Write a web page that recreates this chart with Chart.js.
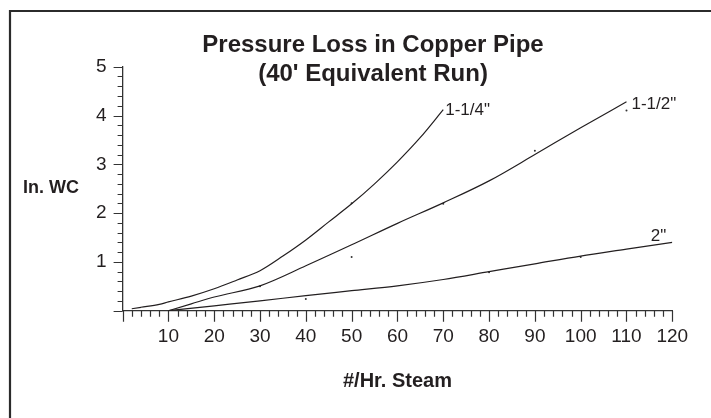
<!DOCTYPE html>
<html>
<head>
<meta charset="utf-8">
<script src="https://cdn.jsdelivr.net/npm/chart.js@4.4.0/dist/chart.umd.min.js"></script>
<style>
  html, body { margin: 0; padding: 0; background: #fff; }
  #wrap { width: 711px; height: 418px; }
</style>
</head>
<body>
<div id="wrap"><canvas id="chart"></canvas></div>
<script>
const flow_114 = [2, 4, 8, 10, 15, 20, 25, 30, 35, 40, 45, 50, 55, 60, 65, 70];
const loss_114 = [0.04, 0.07, 0.13, 0.18, 0.30, 0.45, 0.63, 0.82, 1.12, 1.45, 1.82, 2.19, 2.6, 3.05, 3.55, 4.12];
const flow_112 = [10, 15, 20, 30, 40, 50, 60, 70, 80, 90, 100, 110];
const loss_112 = [0, 0.14, 0.28, 0.51, 0.92, 1.35, 1.79, 2.21, 2.66, 3.2, 3.75, 4.28];
const flow_2 = [10, 20, 30, 40, 50, 60, 70, 80, 90, 100, 110, 120];
const loss_2 = [0, 0.1, 0.2, 0.31, 0.41, 0.51, 0.64, 0.8, 0.96, 1.12, 1.26, 1.4];
// little stray marks on the plot
const dot_x = [30, 40, 50, 50, 70, 80, 90, 100, 110];
const dot_y = [0.5, 0.24, 1.1, 2.2, 2.19, 0.79, 3.28, 1.1, 4.1];

const pipeNames = ['1-1/4"', '1-1/2"', '2"'];
const xTickLabels = [10, 20, 30, 40, 50, 60, 70, 80, 90, 100, 110, 120];
const yTickLabels = [1, 2, 3, 4, 5];
const titleLines = ['Pressure Loss in Copper Pipe', "(40' Equivalent Run)"];
const yTitle = 'In. WC';
const xTitle = '#/Hr. Steam';

const INK = '#231f20';
const FONT = "'Liberation Sans', Arial, Helvetica, sans-serif";

function pts(xs, ys) {
    return xs.map((x, i) => ({ x: x, y: ys[i] }));
}

function curve(label, xs, ys) {
    return {
        label: label,
        data: pts(xs, ys),
        borderColor: INK,
        borderWidth: 1.2,
        pointRadius: 0,
        fill: false,
        cubicInterpolationMode: 'monotone'
    };
}

// label offsets from each curve's last point
const labelSpots = [
    { dx: 2, dy: 1, align: 'left' },
    { dx: 5, dy: 2, align: 'left' },
    { dx: -6, dy: -6, align: 'right' }
];

const paperPlugin = {
    id: 'paper',
    beforeDraw(chart) {
        const ctx = chart.ctx;
        ctx.save();
        ctx.fillStyle = '#fff';
        ctx.fillRect(0, 0, chart.width, chart.height);
        // frame, only top and left show
        ctx.strokeStyle = '#2b2b2b';
        ctx.lineWidth = 2.2;
        ctx.beginPath();
        ctx.moveTo(10, chart.height + 5);
        ctx.lineTo(10, 11);
        ctx.lineTo(chart.width + 5, 11);
        ctx.stroke();
        ctx.restore();
    },
    afterDraw(chart) {
        const ctx = chart.ctx;
        const xs = chart.scales.x, ys = chart.scales.y;
        const area = chart.chartArea;
        ctx.save();
        ctx.strokeStyle = '#333';
        ctx.lineWidth = 1.2;
        ctx.beginPath();
        for (let i = 0; i <= 25; i++) {
            const py = Math.round(ys.getPixelForValue(i * 0.2)) + 0.5;
            const len = i % 5 === 0 ? 9 : 5;
            ctx.moveTo(area.left - len, py);
            ctx.lineTo(area.left, py);
        }
        for (let v = 0; v <= 120; v += 2) {
            const px = Math.round(xs.getPixelForValue(v)) + 0.5;
            const len = v % 10 === 0 ? 11 : 6;
            ctx.moveTo(px, area.bottom);
            ctx.lineTo(px, area.bottom + len);
        }
        ctx.stroke();

        ctx.fillStyle = INK;
        ctx.textBaseline = 'middle';
        ctx.textAlign = 'center';
        ctx.font = 'bold 24px ' + FONT;
        ctx.fillText(titleLines[0], 373, 45);
        ctx.fillText(titleLines[1], 373, 74);

        ctx.font = 'bold 18px ' + FONT;
        ctx.fillText(yTitle, 51, 188);

        ctx.font = '17px ' + FONT;
        chart.data.datasets.slice(0, 3).forEach((ds, i) => {
            const last = ds.data[ds.data.length - 1];
            const s = labelSpots[i];
            ctx.textAlign = s.align;
            ctx.fillText(pipeNames[i], xs.getPixelForValue(last.x) + s.dx, ys.getPixelForValue(last.y) + s.dy);
        });
        ctx.restore();
    }
};

const ctx = document.getElementById('chart');
new Chart(ctx, {
    type: 'line',
    data: {
        datasets: [
            curve(pipeNames[0], flow_114, loss_114),
            curve(pipeNames[1], flow_112, loss_112),
            curve(pipeNames[2], flow_2, loss_2),
            {
                type: 'scatter',
                label: 'marks',
                data: pts(dot_x, dot_y),
                pointRadius: 1,
                pointBackgroundColor: '#333',
                pointBorderWidth: 0,
                showLine: false
            }
        ]
    },
    options: {
        responsive: true,
        maintainAspectRatio: false,
        animation: false,
        layout: { padding: { left: 0, right: 38.7, top: 66.7, bottom: 0 } },
        plugins: {
            legend: { display: false },
            tooltip: { enabled: false }
        },
        scales: {
            x: {
                type: 'linear',
                min: 0,
                max: 120,
                afterFit: s => { s.height = 107.3; },
                border: { display: true, color: '#333', width: 1.3 },
                grid: { display: false, drawTicks: false },
                ticks: {
                    stepSize: 10,
                    padding: 15,
                    color: INK,
                    font: { family: FONT, size: 19 },
                    maxRotation: 0,
                    callback: v => xTickLabels.includes(v) ? String(v) : ''
                },
                title: {
                    display: true,
                    text: xTitle,
                    color: INK,
                    font: { family: FONT, size: 20, weight: 'bold' },
                    padding: { top: 0, bottom: 25 }
                }
            },
            y: {
                type: 'linear',
                min: 0,
                max: 5,
                afterFit: s => { s.width = 122.6; },
                border: { display: true, color: '#333', width: 1.3 },
                grid: { display: false, drawTicks: false },
                ticks: {
                    stepSize: 1,
                    padding: 16,
                    color: INK,
                    font: { family: FONT, size: 19 },
                    callback: v => yTickLabels.includes(v) ? String(v) : ''
                }
            }
        }
    },
    plugins: [paperPlugin]
});
</script>
</body>
</html>
